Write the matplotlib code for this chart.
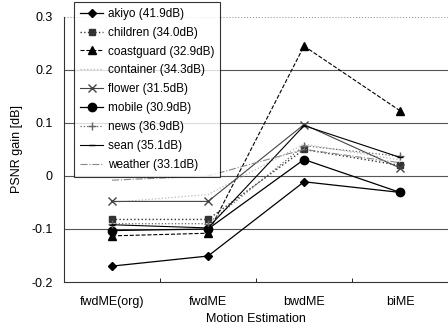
import matplotlib
matplotlib.use('Agg')
import matplotlib.pyplot as plt

plt.rcParams['font.family'] = ['Liberation Sans', 'DejaVu Sans']

methods = ['fwdME(org)', 'fwdME', 'bwdME', 'biME']
labels = ['akiyo (41.9dB)', 'children (34.0dB)', 'coastguard (32.9dB)',
          'container (34.3dB)', 'flower (31.5dB)', 'mobile (30.9dB)',
          'news (36.9dB)', 'sean (35.1dB)', 'weather (33.1dB)']

akiyo = [-0.170, -0.151, -0.011, -0.031]
children = [-0.082, -0.082, 0.050, 0.020]
coastguard = [-0.113, -0.108, 0.245, 0.123]
container = [-0.050, -0.035, 0.060, 0.030]
flower = [-0.048, -0.048, 0.097, 0.015]
mobile = [-0.103, -0.100, 0.031, -0.031]
news = [-0.090, -0.090, 0.057, 0.037]
sean = [-0.092, -0.098, 0.095, 0.035]
weather = [-0.008, 0.000, 0.050, 0.025]

series = [akiyo, children, coastguard, container, flower, mobile, news, sean, weather]
styles = [
    dict(color='black', ls='-', marker='D', ms=4.5, lw=0.9),
    dict(color='#333333', ls=':', marker='s', ms=5, lw=1.0),
    dict(color='black', ls='--', marker='^', ms=6, lw=0.8),
    dict(color='#bbbbbb', ls=':', marker='', lw=0.9),
    dict(color='#444444', ls='-', marker='x', ms=6, lw=0.8),
    dict(color='black', ls='-', marker='o', ms=6, lw=0.9),
    dict(color='#666666', ls=':', marker='+', ms=6, lw=0.9),
    dict(color='black', ls='-', marker='_', ms=5, lw=0.8),
    dict(color='#888888', ls='-.', marker='', lw=0.8),
]

fig = plt.figure(figsize=(4.48, 3.31), dpi=100)
ax = fig.add_axes([0.143, 0.148, 0.857, 0.801])

x = list(range(1, len(methods) + 1))

# horizontal grid
for g in [0.2, 0.1, 0.0, -0.1]:
    ax.axhline(g, color='#555555', lw=0.8, zorder=0)
ax.axhline(0.3, color='#999999', lw=0.8, ls=':', zorder=0)

for vals, lab, st in zip(series, labels, styles):
    ax.plot(x, vals, label=lab, mfc=st['color'], mec=st['color'], **st)

ax.set_xlim(0.5, 4.5)
ax.set_ylim(-0.2, 0.3)
ax.set_xticks(x)
ax.set_xticklabels(methods, fontsize=9)
ax.set_xticks([1.5, 2.5, 3.5], minor=True)
ax.tick_params(axis='x', which='major', length=0, pad=10)
ax.tick_params(axis='x', which='minor', direction='in', length=3)
ax.set_yticks([-0.2, -0.1, 0, 0.1, 0.2, 0.3])
ax.set_yticklabels(['-0.2', '-0.1', '0', '0.1', '0.2', '0.3'], fontsize=9)
ax.tick_params(axis='y', direction='in', length=0, pad=8)

ax.spines['top'].set_visible(False)
ax.spines['right'].set_visible(False)
ax.spines['left'].set_color('#333333')
ax.spines['bottom'].set_color('#333333')

ax.set_xlabel('Motion Estimation', fontsize=9, labelpad=4)
ax.set_ylabel('PSNR gain [dB]', fontsize=9, labelpad=6)

leg = ax.legend(loc='upper left', bbox_to_anchor=(0.165, 0.994),
                bbox_transform=fig.transFigure, fontsize=8.5,
                frameon=True, fancybox=False, borderaxespad=0,
                handlelength=2.0, labelspacing=0.58, borderpad=0.5,
                handletextpad=0.35)
leg.get_frame().set_edgecolor('black')
leg.get_frame().set_linewidth(0.8)

fig.savefig('out.png', dpi=100)
